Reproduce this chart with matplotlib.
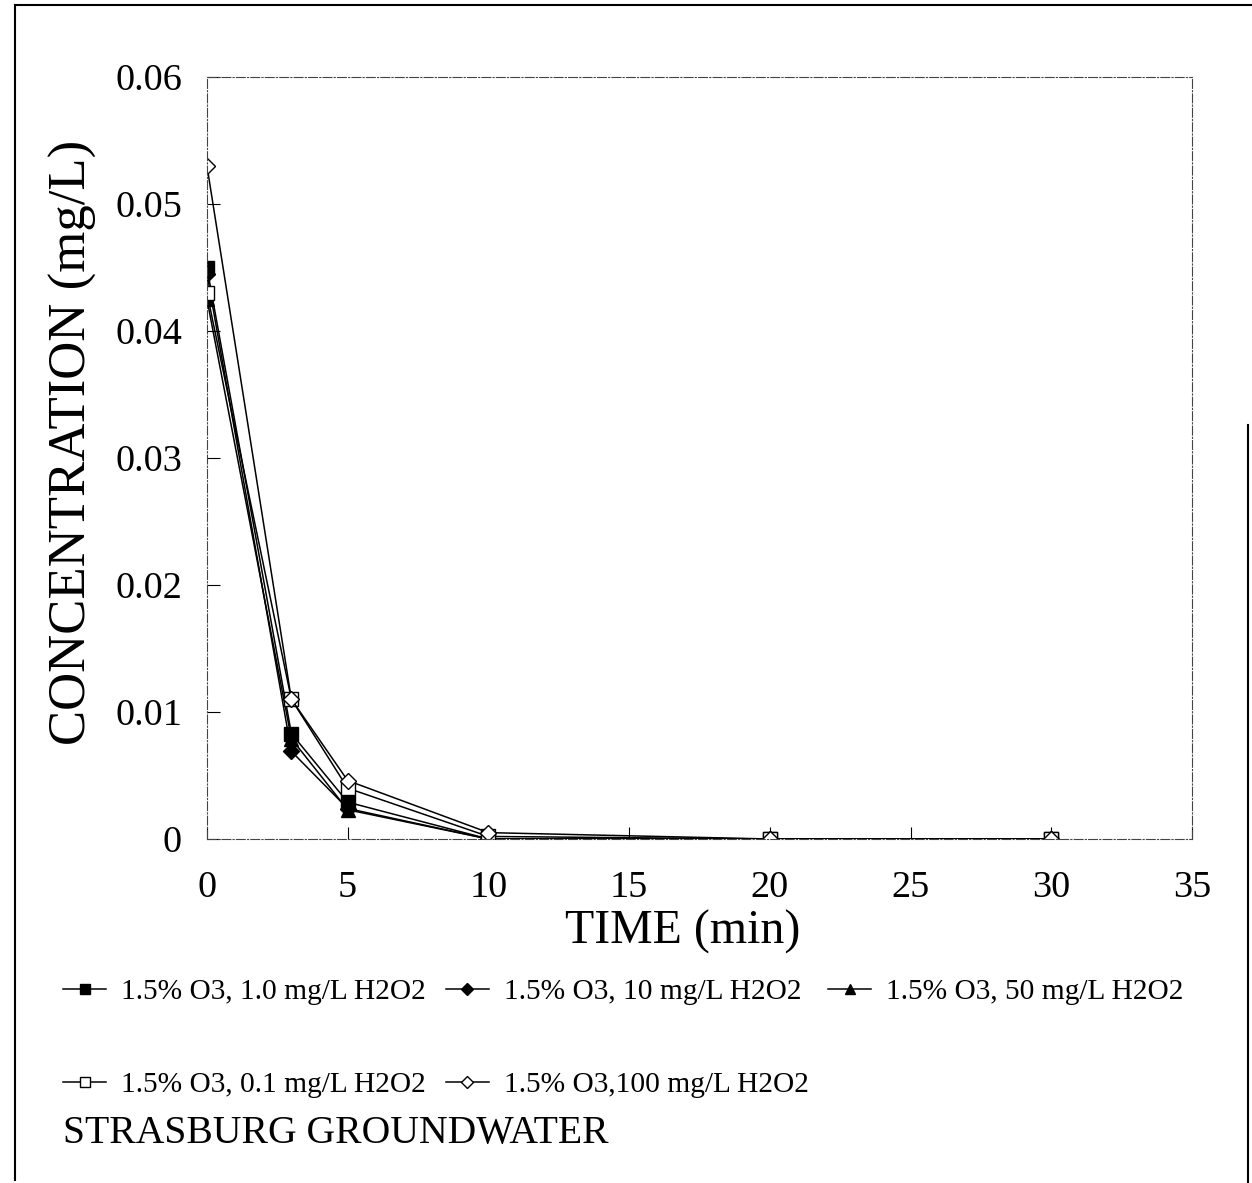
import numpy as np
import matplotlib.pyplot as plt
from matplotlib.lines import Line2D

plt.rcParams['font.family'] = ['Liberation Serif', 'DejaVu Serif']

# Data
time_min = [0, 3, 5, 10, 20, 30]
conc_1mg = [0.045, 0.0083, 0.0029, 0.0, 0.0, 0.0]
conc_10mg = [0.0445, 0.0069, 0.0024, 0.0, 0.0, 0.0]
conc_50mg = [0.0425, 0.0079, 0.0023, 0.0, 0.0, 0.0]
conc_01mg = [0.043, 0.011, 0.0040, 0.0002, 0.0, 0.0]
conc_100mg = [0.053, 0.011, 0.0046, 0.0005, 0.0, 0.0]

labels = ["1.5% O3, 1.0 mg/L H2O2", "1.5% O3, 10 mg/L H2O2", "1.5% O3, 50 mg/L H2O2",
          "1.5% O3, 0.1 mg/L H2O2", "1.5% O3,100 mg/L H2O2"]
xticks = [0, 5, 10, 15, 20, 25, 30, 35]
yticks = [0, 0.01, 0.02, 0.03, 0.04, 0.05, 0.06]
ytick_labels = ["0", "0.01", "0.02", "0.03", "0.04", "0.05", "0.06"]

fig = plt.figure(figsize=(12.52, 11.83), dpi=100)
ax = fig.add_axes([0.1653, 0.2908, 0.7868, 0.6441])

series = [
    (conc_1mg, 's', 'black'),
    (conc_10mg, 'D', 'black'),
    (conc_50mg, '^', 'black'),
    (conc_01mg, 's', 'white'),
    (conc_100mg, 'D', 'white'),
]
handles = []
for (vals, mk, fc), lab in zip(series, labels):
    ms = 10 if mk != 'D' else 8.5
    h, = ax.plot(time_min, vals, color='black', lw=1.1, marker=mk, ms=ms,
                 mfc=fc, mec='black', mew=1.0, label=lab)
    handles.append(h)

ax.set_xlim(0, 35)
ax.set_ylim(0, 0.06)
ax.set_xticks(xticks)
ax.set_yticks(yticks)
ax.set_yticklabels(ytick_labels)
ax.tick_params(direction='in', length=9, width=0.8, labelsize=27.5)
ax.tick_params(axis='y', pad=18)
ax.tick_params(axis='x', pad=23)
for s in ax.spines.values():
    s.set_linestyle((0, (8, 2, 1, 2)))
    s.set_linewidth(0.8)
    s.set_color('#444444')

ax.set_xlabel("TIME (min)", fontsize=34.5)
ax.xaxis.set_label_coords(0.483, -0.093)
ax.set_ylabel("CONCENTRATION (mg/L)", fontsize=38)
ax.yaxis.set_label_coords(-0.112, 0.521)

# legend: column-first order for ncol=3
order = [0, 3, 1, 4, 2]
leg = fig.legend([handles[i] for i in order], [labels[i] for i in order],
                 ncol=3, loc='upper left', bbox_to_anchor=(0.0506, 0.173),
                 frameon=False, fontsize=21.2, handlelength=1.46, handletextpad=0.5,
                 columnspacing=0.68, labelspacing=2.25, markerscale=0.75,
                 borderaxespad=0, borderpad=0)

fig.text(0.05, 0.034, "STRASBURG GROUNDWATER", fontsize=28.5, ha='left', va='baseline')

# outer frame of the scanned page
W, H = 1252, 1183
def px_line(x0, y0, x1, y1):
    fig.add_artist(Line2D([x0 / W, x1 / W], [1 - y0 / H, 1 - y1 / H],
                          color='black', lw=1.5, transform=fig.transFigure))
px_line(15, 5, 15, 1180)
px_line(15, 5, 1252, 5)
px_line(1248, 425, 1248, 1183)

fig.savefig("out.png", dpi=100)
